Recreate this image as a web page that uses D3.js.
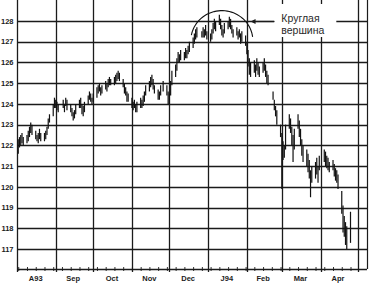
<!DOCTYPE html>
<html>
<head>
<meta charset="utf-8">
<script src="https://cdn.jsdelivr.net/npm/d3@7"></script>
<style>
html,body{margin:0;padding:0;background:#fff;}
svg{display:block;}
</style>
</head>
<body>
<svg id="chart" width="369" height="290"></svg>
<script>
// ---- data ----
const startDate = "1993-08-02";
const endDomain = ["1993-08-01", "1994-05-01"];
const holidays = ["1993-09-06", "1993-11-25", "1993-12-24", "1994-02-21", "1994-04-01"];
const highs = [
  122.3,122.4,122.5,122.6,122.4,
  122.5,122.7,122.9,123.1,123.0,
  122.7,122.5,122.6,122.8,122.6,
  122.6,122.7,122.9,123.3,123.5,
  124.0,124.3,124.2,124.1,124.0,
  124.2,124.0,124.3,124.2,
  124.0,123.8,123.6,123.7,124.0,
  124.2,124.3,124.0,123.9,124.1,
  124.4,124.6,124.5,124.3,124.5,
  124.8,124.9,125.0,124.8,124.9,
  125.1,125.0,125.2,125.3,125.2,
  125.3,125.4,125.5,125.6,125.5,
  125.2,125.0,124.8,124.6,124.5,
  124.3,124.1,124.2,124.0,124.1,
  124.3,124.2,124.4,124.6,124.9,
  125.1,125.3,125.4,125.2,124.9,
  124.7,124.6,124.9,125.1,
  124.9,124.6,124.5,125.1,125.6,
  125.9,126.2,126.5,126.4,126.6,
  126.5,126.7,126.6,126.8,127.0,
  127.2,127.4,127.6,127.7,
  127.5,127.7,127.6,127.8,127.5,
  127.4,127.6,127.9,128.1,128.0,
  128.3,128.1,127.8,127.6,127.9,
  128.0,128.2,128.1,127.8,127.6,
  127.7,127.5,127.6,127.4,127.5,
  127.3,127.0,126.6,126.2,126.0,
  126.1,125.9,126.2,126.0,125.8,
  126.0,126.2,125.9,125.6,125.4,
  124.6,124.2,123.9,123.7,
  123.0,122.6,122.2,122.0,123.0,
  123.5,123.3,122.9,122.5,122.8,
  123.5,123.2,122.8,122.3,122.0,
  121.8,121.6,121.3,120.8,121.0,
  121.2,121.4,121.0,121.5,
  121.8,121.7,121.5,121.4,121.2,
  121.3,121.1,120.9,120.8,120.6,
  119.8,119.1,118.6,118.3,118.1,
  118.8
];
const lows = [
  121.6,121.9,122.0,122.1,122.0,
  122.1,122.2,122.4,122.6,122.5,
  122.3,122.2,122.1,122.3,122.2,
  122.2,122.3,122.5,122.8,123.1,
  123.4,123.8,123.8,123.7,123.6,
  123.8,123.6,123.9,123.7,
  123.6,123.4,123.2,123.3,123.5,
  123.8,123.8,123.5,123.4,123.6,
  124.0,124.2,124.1,124.0,124.1,
  124.3,124.5,124.6,124.4,124.5,
  124.7,124.6,124.8,124.9,124.9,
  124.9,125.0,125.1,125.2,125.1,
  124.8,124.5,124.4,124.1,124.1,
  123.8,123.7,123.8,123.6,123.6,
  123.8,123.8,123.9,124.1,124.4,
  124.6,124.8,124.9,124.7,124.5,
  124.2,124.2,124.4,124.6,
  124.4,124.0,124.0,124.4,124.9,
  125.3,125.6,126.0,126.0,126.1,
  126.1,126.2,126.2,126.4,126.5,
  126.7,126.9,127.1,127.2,
  127.2,127.2,127.2,127.3,127.1,
  127.0,127.1,127.4,127.6,127.5,
  127.8,127.6,127.3,127.2,127.4,
  127.6,127.7,127.6,127.4,127.2,
  127.3,127.1,127.2,126.9,127.0,
  126.8,126.4,125.8,125.4,125.3,
  125.5,125.3,125.6,125.4,125.3,
  125.5,125.6,125.3,125.0,124.9,
  124.2,123.7,123.4,123.0,
  122.4,119.9,121.3,121.4,121.8,
  122.8,122.6,122.0,121.2,121.8,
  122.8,122.4,122.0,121.5,121.2,
  121.0,120.7,120.4,119.5,120.2,
  120.4,120.6,120.2,120.8,
  121.2,121.0,120.9,120.8,120.7,
  120.8,120.5,120.3,120.2,119.9,
  118.7,117.8,117.6,117.2,117.0,
  117.3
];
const yTicks = [117,118,119,120,121,122,123,124,125,126,127,128];
const monthStarts = ["1993-09-01","1993-10-01","1993-11-01","1993-12-01","1994-01-01","1994-02-01","1994-03-01","1994-04-01","1994-05-01"];
const monthLabels = ["A93","Sep","Oct","Nov","Dec","J94","Feb","Mar","Apr"];
const monthMids = ["1993-08-16","1993-09-15","1993-10-16","1993-11-15","1993-12-16","1994-01-16","1994-02-14","1994-03-16","1994-04-15"];
const annotationLines = ["Круглая","вершина"];
const arcCenter = {date:"1994-01-12", value:127.05};
const arrowFrom = {date:"1994-02-23", value:128};
const arrowTo = {date:"1994-02-04", value:128};

// ---- chart ----
(function () {
const parse = d3.utcParse("%Y-%m-%d");
const svg = d3.select("#chart");
const pLeft = 17, pRight = 367, pTop = 0, pBottom = 269;
const ink = "#1b1b1b";

const x = d3.scaleUtc().domain(endDomain.map(parse)).range([17, 358]);
const y = d3.scaleLinear().domain([116.04, 129.01]).range([pBottom, pTop]);

// trading dates
const hol = new Set(holidays);
const fmt = d3.utcFormat("%Y-%m-%d");
const dates = [];
let d = parse(startDate);
while (dates.length < highs.length) {
  const wd = d.getUTCDay();
  if (wd !== 0 && wd !== 6 && !hol.has(fmt(d))) dates.push(new Date(d));
  d = d3.utcDay.offset(d, 1);
}
const bars = dates.map((dt, i) => ({date: dt, high: highs[i], low: lows[i]}));

// horizontal grid
svg.append("g").selectAll("line").data(yTicks).join("line")
  .attr("x1", pLeft).attr("x2", pRight)
  .attr("y1", v => Math.round(y(v)) + 0.5).attr("y2", v => Math.round(y(v)) + 0.5)
  .attr("stroke", ink).attr("stroke-width", 1.3);

// vertical month grid
svg.append("g").selectAll("line").data(monthStarts.map(parse)).join("line")
  .attr("x1", dd => Math.round(x(dd)) + 0.5).attr("x2", dd => Math.round(x(dd)) + 0.5)
  .attr("y1", pTop).attr("y2", pBottom + 3)
  .attr("stroke", ink).attr("stroke-width", 1.3);

// frame left & right
svg.append("line").attr("x1", pLeft + 0.5).attr("x2", pLeft + 0.5).attr("y1", pTop).attr("y2", pBottom + 3)
  .attr("stroke", ink).attr("stroke-width", 1.3);
svg.append("line").attr("x1", pRight + 0.5).attr("x2", pRight + 0.5).attr("y1", pTop).attr("y2", pBottom)
  .attr("stroke", ink).attr("stroke-width", 1.2);

// x axis with weekly ticks
const xAxis = d3.axisBottom(x)
  .ticks(d3.utcMonday.every(1))
  .tickSize(2).tickSizeOuter(0).tickFormat("");
const gx = svg.append("g").attr("transform", `translate(0,${pBottom})`).call(xAxis);
gx.select(".domain").attr("d", `M${pLeft},0.5H${pRight}`).attr("stroke", ink).attr("stroke-width", 1.3);
gx.selectAll(".tick line").attr("y1", -2).attr("y2", 2).attr("stroke", ink).attr("stroke-width", 0.9);

// month labels
svg.append("g").selectAll("text").data(monthLabels).join("text")
  .attr("x", (t, i) => x(parse(monthMids[i])))
  .attr("y", 281)
  .attr("text-anchor", "middle")
  .attr("font-family", "Liberation Sans, Arial, sans-serif")
  .attr("font-weight", "bold")
  .attr("font-size", 7.5)
  .attr("fill", ink)
  .text(t => t);

// y labels
svg.append("g").selectAll("text").data(yTicks).join("text")
  .attr("x", 13.5)
  .attr("y", v => y(v) + 2.8)
  .attr("text-anchor", "end")
  .attr("font-family", "Liberation Sans, Arial, sans-serif")
  .attr("font-weight", "bold")
  .attr("font-size", 7.5)
  .attr("fill", ink)
  .text(v => v);

// price bars
svg.append("g").selectAll("line").data(bars).join("line")
  .attr("x1", b => x(b.date)).attr("x2", b => x(b.date))
  .attr("y1", b => y(b.high)).attr("y2", b => y(b.low))
  .attr("stroke", "#111").attr("stroke-width", 1.2);

// annotation: white box behind text
const bx = x(parse(arrowFrom.date));
svg.append("rect")
  .attr("x", bx).attr("y", 4)
  .attr("width", 62).attr("height", 33)
  .attr("fill", "#fff");
svg.append("g").selectAll("text").data(annotationLines).join("text")
  .attr("x", bx + 7)
  .attr("y", (t, i) => 22 + i * 12)
  .attr("font-family", "Liberation Sans, Arial, sans-serif")
  .attr("font-size", 10.5)
  .attr("fill", "#2a2a2a")
  .text(t => t);

// arc
const cx = x(parse(arcCenter.date)), cy = y(arcCenter.value);
const rx = 31, ry = 30;
const a0 = Math.PI * 1.06, a1 = Math.PI * 1.96;
const arcPts = d3.range(0, 41).map(k => {
  const a = a0 + (a1 - a0) * k / 40;
  return [cx + rx * Math.cos(a), cy + ry * Math.sin(a)];
});
svg.append("path").attr("d", d3.line()(arcPts))
  .attr("fill", "none").attr("stroke", "#111").attr("stroke-width", 1.1);

// arrow
const ax1 = x(parse(arrowFrom.date)), ax2 = x(parse(arrowTo.date)), ay = Math.round(y(arrowFrom.value)) + 0.5;
svg.append("line").attr("x1", ax1).attr("x2", ax2 + 3).attr("y1", ay).attr("y2", ay)
  .attr("stroke", ink).attr("stroke-width", 1.2);
svg.append("path")
  .attr("d", `M${ax2},${ay}L${ax2 + 5},${ay - 2.5}L${ax2 + 5},${ay + 2.5}Z`)
  .attr("fill", ink);
})();
</script>
</body>
</html>
